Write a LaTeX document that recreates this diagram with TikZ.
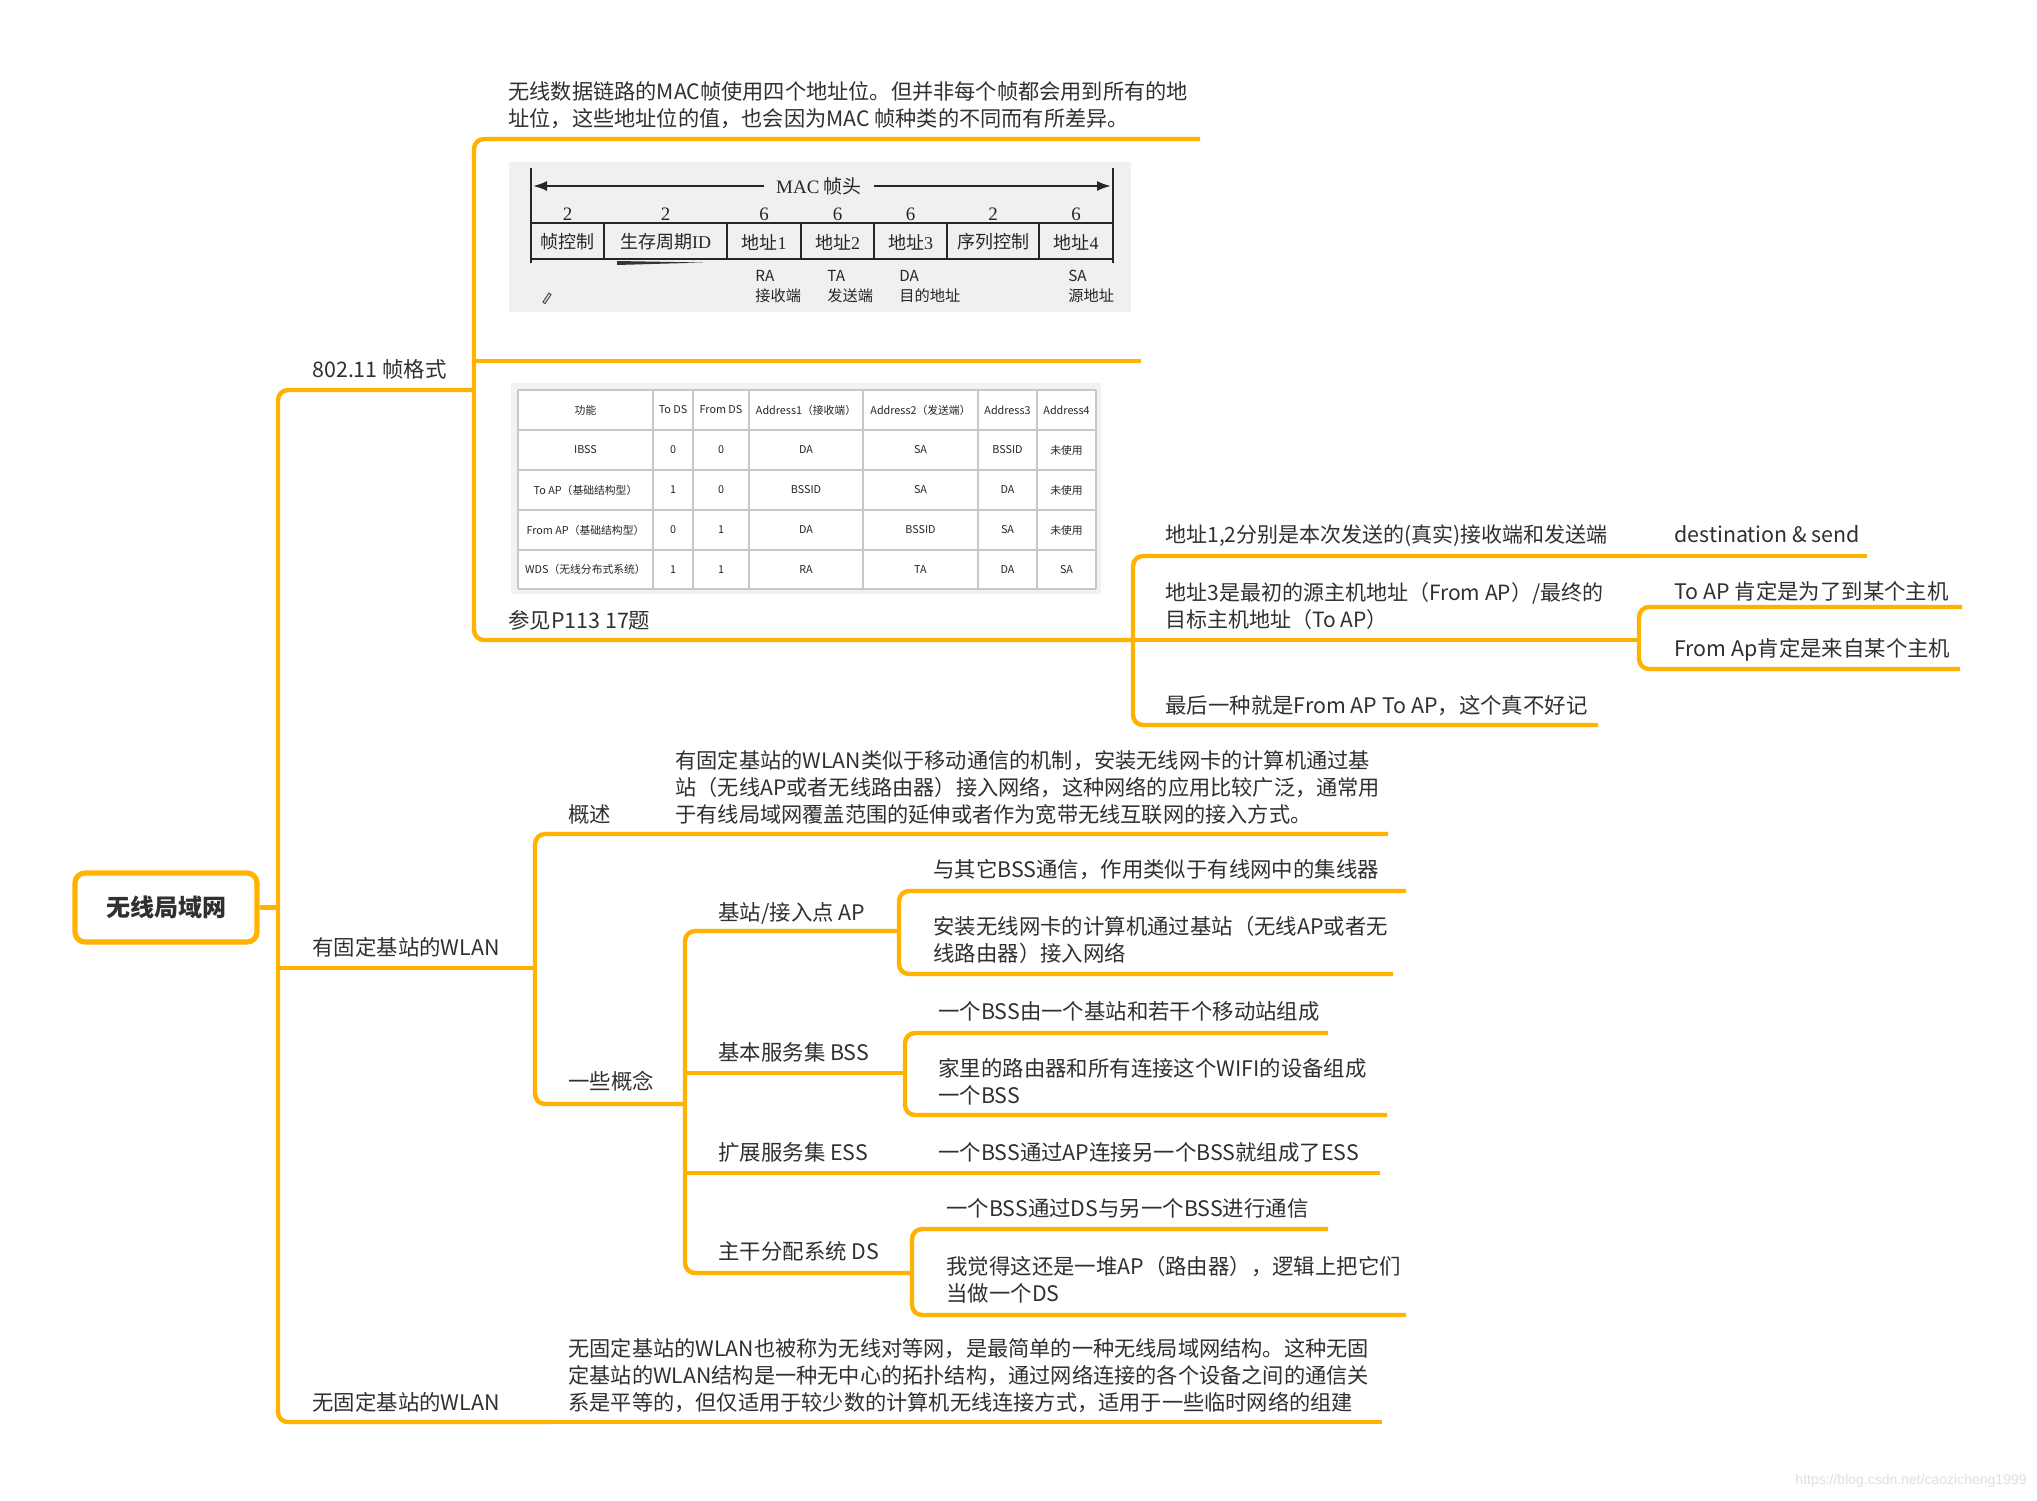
\documentclass[tikz,border=0pt]{standalone}
\usepackage{fontspec}
\setmainfont{Noto Sans CJK SC}
\newfontfamily\tnr{Liberation Serif}
\newfontfamily\lsans{Liberation Sans}
\usetikzlibrary{arrows.meta}
\definecolor{brc}{RGB}{255,178,0}
\definecolor{tx}{RGB}{48,48,48}
\begin{document}
\begin{tikzpicture}[x=0.5pt,y=-0.5pt,
  br/.style={draw=brc,line width=2.2pt},
  bus/.style={draw=brc,line width=2.2pt,rounded corners=5pt},
  tl/.style={anchor=base west,inner sep=0pt,text=tx,font=\fontsize{10.7}{13.5}\selectfont,align=left},
  rootbox/.style={draw=brc,line width=2.6pt,fill=white,rounded corners=5pt,minimum width=91pt,minimum height=34.5pt,inner sep=0pt,text=tx,font=\fontsize{12}{14}\selectfont\bfseries},
  tcell/.style={inner sep=0pt,text=black!85,font=\fontsize{5.4}{6}\selectfont},
  mcell/.style={inner sep=0pt,text=black!85,font=\fontsize{9}{10}\selectfont},
  msub/.style={anchor=north west,inner sep=0pt,align=left,text=black!85,font=\fontsize{7.6}{10}\selectfont},
  frm/.style={draw=black!85,line width=1pt}
]
\useasboundingbox (0,0) rectangle (2037,1500);
\fill[white] (0,0) rectangle (2037,1500);

% ---------- root ----------
\node[rootbox] (root) at (166,907.5) {无线局域网};
\coordinate (r0) at (278,907.5);

% ---------- coordinates of underlines ----------
\coordinate (As) at (278,390);   \coordinate (Ae) at (474,390);
\coordinate (Bs) at (278,968);   \coordinate (Be) at (535,968);
\coordinate (Ce) at (552,1422);  \coordinate (C1e) at (1382,1422);

\coordinate (A1e) at (1200,139);
\coordinate (A2s) at (474,361);  \coordinate (A2e) at (1141,361);
\coordinate (A3e) at (1133,640);
\coordinate (A31e) at (1640,556); \coordinate (A311e) at (1867,556);
\coordinate (A32e) at (1639,640);
\coordinate (A321e) at (1962,607); \coordinate (A322e) at (1960,669);
\coordinate (A33e) at (1598,725);

\coordinate (B11e) at (1388,834);
\coordinate (B2e) at (685,1104);
\coordinate (B21e) at (899,931);
\coordinate (B211e) at (1406,891); \coordinate (B212e) at (1393,974);
\coordinate (B22s) at (685,1073); \coordinate (B22e) at (905,1073);
\coordinate (B221e) at (1328,1033); \coordinate (B222e) at (1387,1115);
\coordinate (B23s) at (685,1173); \coordinate (B231e) at (1380,1173);
\coordinate (B24e) at (912,1273);
\coordinate (B241e) at (1328,1229); \coordinate (B242e) at (1406,1315);

% ---------- connectors ----------
\draw[br] (root.east) -- (r0);
\draw[bus] (Ae) -| (r0) |- (Ce);
\draw[br] (Bs) -- (Be);
\draw[br] (Ce) -- (C1e);

\draw[bus] (A1e) -| (Ae) |- (A3e);
\draw[br] (A2s) -- (A2e);
\draw[bus] (A31e) -| (A3e) |- (A33e);
\draw[br] (A3e) -- (A32e);
\draw[br] (A31e) -- (A311e);
\draw[bus] (A321e) -| (A32e) |- (A322e);

\draw[bus] (B11e) -| (Be) |- (B2e);
\draw[bus] (B21e) -| (B2e) |- (B24e);
\draw[br] (B22s) -- (B22e);
\draw[br] (B23s) -- (B231e);
\draw[bus] (B211e) -| (B21e) |- (B212e);
\draw[bus] (B221e) -| (B22e) |- (B222e);
\draw[bus] (B241e) -| (B24e) |- (B242e);

% ---------- texts (base = baseline of last line) ----------
\node[tl] (A) at (312,377) {802.11 帧格式};
\node[tl] (B) at (312,955) {有固定基站的WLAN};
\node[tl] (C) at (312,1410) {无固定基站的WLAN};

\node[tl,font=\fontsize{10.6}{13.5}\selectfont] (A1) at (508,126) {无线数据链路的MAC帧使用四个地址位。但并非每个帧都会用到所有的地\\址位，这些地址位的值，也会因为MAC 帧种类的不同而有所差异。};
\node[tl] (A3) at (508,628) {参见P113 17题};
\node[tl,font=\fontsize{10.5}{13.5}\selectfont] (A31) at (1165,542) {地址1,2分别是本次发送的(真实)接收端和发送端};
\node[tl] (A311) at (1674,542) {destination \& send};
\node[tl,font=\fontsize{10.5}{13.5}\selectfont] (A32) at (1165,627) {地址3是最初的源主机地址（From AP）/最终的\\目标主机地址（To AP）};
\node[tl] (A321) at (1674,599) {To AP 肯定是为了到某个主机};
\node[tl] (A322) at (1674,656) {From Ap肯定是来自某个主机};
\node[tl] (A33) at (1165,713) {最后一种就是From AP To AP，这个真不好记};

\node[tl] (B1) at (568,822) {概述};
\node[tl,font=\fontsize{10.6}{13.5}\selectfont] (B11) at (675,822) {有固定基站的WLAN类似于移动通信的机制，安装无线网卡的计算机通过基\\站（无线AP或者无线路由器）接入网络，这种网络的应用比较广泛，通常用\\于有线局域网覆盖范围的延伸或者作为宽带无线互联网的接入方式。};
\node[tl] (B2) at (568,1089) {一些概念};
\node[tl] (B21) at (718,920) {基站/接入点 AP};
\node[tl] (B211) at (933,877) {与其它BSS通信，作用类似于有线网中的集线器};
\node[tl] (B212) at (933,961) {安装无线网卡的计算机通过基站（无线AP或者无\\线路由器）接入网络};
\node[tl] (B22) at (718,1060) {基本服务集 BSS};
\node[tl] (B221) at (938,1019) {一个BSS由一个基站和若干个移动站组成};
\node[tl] (B222) at (938,1103) {家里的路由器和所有连接这个WIFI的设备组成\\一个BSS};
\node[tl] (B23) at (718,1160) {扩展服务集 ESS};
\node[tl] (B231) at (938,1160) {一个BSS通过AP连接另一个BSS就组成了ESS};
\node[tl] (B24) at (718,1259) {主干分配系统 DS};
\node[tl] (B241) at (946,1216) {一个BSS通过DS与另一个BSS进行通信};
\node[tl] (B242) at (946,1301) {我觉得这还是一堆AP（路由器），逻辑上把它们\\当做一个DS};

\node[tl,font=\fontsize{10.6}{13.5}\selectfont] (C1) at (568,1410) {无固定基站的WLAN也被称为无线对等网，是最简单的一种无线局域网结构。这种无固\\定基站的WLAN结构是一种无中心的拓扑结构，通过网络连接的各个设备之间的通信关\\系是平等的，但仅适用于较少数的计算机无线连接方式，适用于一些临时网络的组建};

% ---------- MAC frame picture ----------
\fill[black!6] (509,162) rectangle (1131,312);
\draw[frm] (531,168) -- (531,263);
\draw[frm] (1113,168) -- (1113,263);
\node[mcell,font=\fontsize{9.5}{10}\selectfont] (mac) at (819,186) {{\tnr MAC} 帧头};
\draw[frm,-{Latex[length=7pt,width=5pt]}] ([xshift=-6pt]mac.west) -- (533,186);
\draw[frm,-{Latex[length=7pt,width=5pt]}] ([xshift=6pt]mac.east) -- (1111,186);
\draw[frm,line width=1.4pt] (531,223) -- (1113,223);
\draw[frm,line width=1.4pt] (531,259) -- (1113,259);
\foreach \x in {604,727,801,874,947,1039}{\draw[frm] (\x,223) -- (\x,259);}
\fill[black!80] (617,261) -- (703,262.5) -- (617,265) -- cycle;
\foreach \x/\n [count=\i] in {567.5/2,665.5/2,764/6,837.5/6,910.5/6,993/2,1076/6}{
  \node[mcell,font=\fontsize{9.5}{10}\selectfont\tnr] (mn\i) at (\x,214) {\n};}
\node[mcell] (mc1) at (567.5,242) {帧控制};
\node[mcell] (mc2) at (665.5,242) {生存周期{\tnr ID}};
\node[mcell] (mc3) at (764,242) {地址{\tnr 1}};
\node[mcell] (mc4) at (837.5,242) {地址{\tnr 2}};
\node[mcell] (mc5) at (910.5,242) {地址{\tnr 3}};
\node[mcell] (mc6) at (993,242) {序列控制};
\node[mcell] (mc7) at (1076,242) {地址{\tnr 4}};
\node[msub] (ms1) at (755,270) {RA\\接收端};
\node[msub] (ms2) at (827,270) {TA\\发送端};
\node[msub] (ms3) at (899,270) {DA\\目的地址};
\node[msub] (ms4) at (1068,270) {SA\\源地址};
\draw[black!70,line width=0.5pt] (543,302) -- (549,293) -- (551,294.5) -- (545,303.5) -- cycle;

% ---------- address table picture ----------
\fill[black!5] (511,383) rectangle (1101,594);
\fill[white] (518,390) rectangle (1096,589);
\foreach \x in {518,653,693,749,863,978,1037,1096}{\draw[black!22,line width=0.7pt] (\x,390) -- (\x,589);}
\foreach \y in {390,430,470,510,550,589}{\draw[black!22,line width=0.7pt] (518,\y) -- (1096,\y);}
\foreach \x/\t [count=\c] in {585.5/功能,673/To DS,721/From DS,806/Address1（接收端）,920.5/Address2（发送端）,1007.5/Address3,1066.5/Address4}{
  \node[tcell] (th\c) at (\x,410) {\t};}
\foreach \x/\t [count=\c] in {585.5/IBSS,673/0,721/0,806/DA,920.5/SA,1007.5/BSSID,1066.5/未使用}{
  \node[tcell] (ta\c) at (\x,450) {\t};}
\foreach \x/\t [count=\c] in {585.5/To AP（基础结构型）,673/1,721/0,806/BSSID,920.5/SA,1007.5/DA,1066.5/未使用}{
  \node[tcell] (tb\c) at (\x,490) {\t};}
\foreach \x/\t [count=\c] in {585.5/From AP（基础结构型）,673/0,721/1,806/DA,920.5/BSSID,1007.5/SA,1066.5/未使用}{
  \node[tcell] (tc\c) at (\x,530) {\t};}
\foreach \x/\t [count=\c] in {585.5/WDS（无线分布式系统）,673/1,721/1,806/RA,920.5/TA,1007.5/DA,1066.5/SA}{
  \node[tcell] (td\c) at (\x,569.5) {\t};}

% ---------- watermark ----------
\node[anchor=east,inner sep=0pt,text=black!12,font=\fontsize{7}{8}\selectfont\lsans] (wm) at (2027,1481) {https://blog.csdn.net/caozicheng1999};
\end{tikzpicture}
\end{document}
